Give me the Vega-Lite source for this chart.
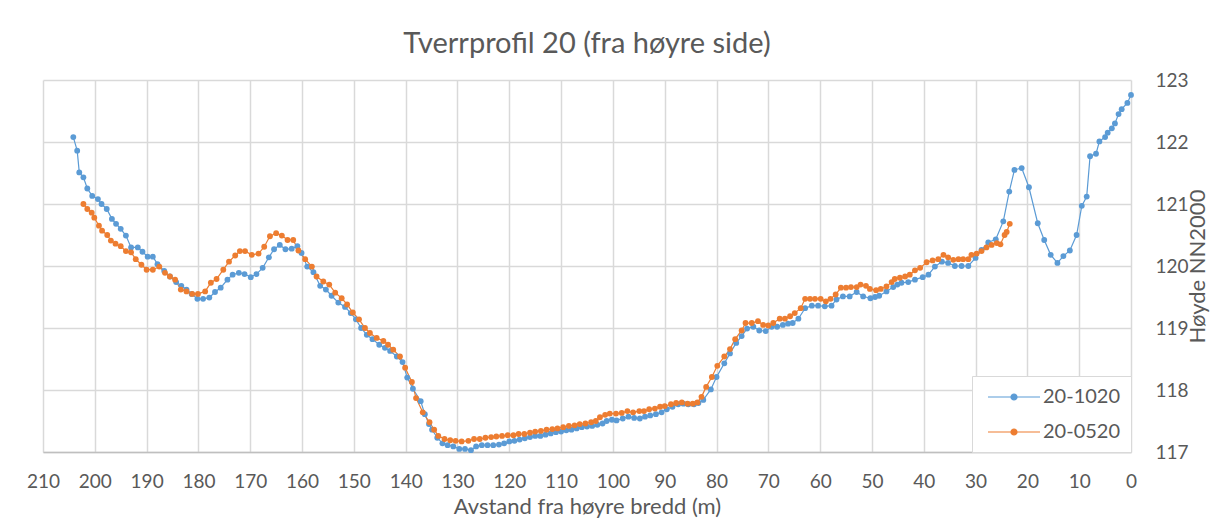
{
  "$schema": "https://vega.github.io/schema/vega-lite/v6.json",
  "width": 1088,
  "height": 372,
  "autosize": {"type": "none"},
  "padding": {"left": 43, "top": 80, "right": 79, "bottom": 66},
  "background": "white",
  "title": {"text": "Tverrprofil 20 (fra høyre side)", "fontSize": 29, "fontWeight": "normal", "color": "#595959", "font": "Lato", "anchor": "middle", "offset": 12},
  "config": {"font": "Lato", "view": {"stroke": null}},
  "data": {"values": [
    {"s":"20-1020","x":204.15,"y":122.08},{"s":"20-1020","x":203.4,"y":121.86},{"s":"20-1020","x":203.0,"y":121.51},{"s":"20-1020","x":202.2,"y":121.43},{"s":"20-1020","x":201.45,"y":121.25},{"s":"20-1020","x":200.5,"y":121.13},{"s":"20-1020","x":199.4,"y":121.08},{"s":"20-1020","x":198.7,"y":121.0},{"s":"20-1020","x":197.7,"y":120.92},{"s":"20-1020","x":196.7,"y":120.76},{"s":"20-1020","x":195.9,"y":120.68},{"s":"20-1020","x":195.0,"y":120.6},{"s":"20-1020","x":194.0,"y":120.49},{"s":"20-1020","x":193.0,"y":120.3},{"s":"20-1020","x":191.7,"y":120.3},{"s":"20-1020","x":190.8,"y":120.23},{"s":"20-1020","x":189.8,"y":120.15},{"s":"20-1020","x":188.8,"y":120.15},{"s":"20-1020","x":187.9,"y":120.03},{"s":"20-1020","x":186.6,"y":119.92},{"s":"20-1020","x":185.5,"y":119.83},{"s":"20-1020","x":184.3,"y":119.74},{"s":"20-1020","x":183.3,"y":119.68},{"s":"20-1020","x":182.3,"y":119.62},{"s":"20-1020","x":181.3,"y":119.55},{"s":"20-1020","x":180.2,"y":119.47},{"s":"20-1020","x":179.1,"y":119.47},{"s":"20-1020","x":177.9,"y":119.49},{"s":"20-1020","x":176.8,"y":119.58},{"s":"20-1020","x":175.7,"y":119.65},{"s":"20-1020","x":174.4,"y":119.78},{"s":"20-1020","x":173.4,"y":119.86},{"s":"20-1020","x":172.2,"y":119.89},{"s":"20-1020","x":171.1,"y":119.87},{"s":"20-1020","x":169.9,"y":119.82},{"s":"20-1020","x":168.8,"y":119.87},{"s":"20-1020","x":167.6,"y":119.97},{"s":"20-1020","x":166.4,"y":120.14},{"s":"20-1020","x":165.4,"y":120.27},{"s":"20-1020","x":164.3,"y":120.34},{"s":"20-1020","x":163.2,"y":120.27},{"s":"20-1020","x":162.0,"y":120.28},{"s":"20-1020","x":160.9,"y":120.32},{"s":"20-1020","x":160.1,"y":120.21},{"s":"20-1020","x":159.0,"y":119.99},{"s":"20-1020","x":157.8,"y":119.9},{"s":"20-1020","x":156.5,"y":119.68},{"s":"20-1020","x":155.4,"y":119.62},{"s":"20-1020","x":154.3,"y":119.52},{"s":"20-1020","x":153.0,"y":119.41},{"s":"20-1020","x":151.7,"y":119.34},{"s":"20-1020","x":150.6,"y":119.24},{"s":"20-1020","x":149.6,"y":119.14},{"s":"20-1020","x":148.6,"y":119.0},{"s":"20-1020","x":147.5,"y":118.89},{"s":"20-1020","x":146.4,"y":118.82},{"s":"20-1020","x":145.1,"y":118.73},{"s":"20-1020","x":144.0,"y":118.68},{"s":"20-1020","x":143.0,"y":118.63},{"s":"20-1020","x":141.7,"y":118.54},{"s":"20-1020","x":140.6,"y":118.45},{"s":"20-1020","x":139.7,"y":118.2},{"s":"20-1020","x":138.6,"y":118.02},{"s":"20-1020","x":137.1,"y":117.82},{"s":"20-1020","x":136.3,"y":117.61},{"s":"20-1020","x":135.5,"y":117.45},{"s":"20-1020","x":134.9,"y":117.36},{"s":"20-1020","x":133.9,"y":117.23},{"s":"20-1020","x":132.9,"y":117.14},{"s":"20-1020","x":131.9,"y":117.11},{"s":"20-1020","x":130.8,"y":117.09},{"s":"20-1020","x":129.65,"y":117.05},{"s":"20-1020","x":128.55,"y":117.05},{"s":"20-1020","x":127.4,"y":117.03},{"s":"20-1020","x":126.4,"y":117.09},{"s":"20-1020","x":125.3,"y":117.11},{"s":"20-1020","x":124.2,"y":117.11},{"s":"20-1020","x":123.1,"y":117.11},{"s":"20-1020","x":122.0,"y":117.12},{"s":"20-1020","x":121.0,"y":117.14},{"s":"20-1020","x":120.0,"y":117.17},{"s":"20-1020","x":119.0,"y":117.18},{"s":"20-1020","x":118.0,"y":117.2},{"s":"20-1020","x":117.0,"y":117.22},{"s":"20-1020","x":116.0,"y":117.24},{"s":"20-1020","x":115.0,"y":117.26},{"s":"20-1020","x":114.0,"y":117.26},{"s":"20-1020","x":113.0,"y":117.28},{"s":"20-1020","x":112.0,"y":117.3},{"s":"20-1020","x":111.0,"y":117.32},{"s":"20-1020","x":110.0,"y":117.33},{"s":"20-1020","x":109.0,"y":117.35},{"s":"20-1020","x":108.0,"y":117.36},{"s":"20-1020","x":107.0,"y":117.38},{"s":"20-1020","x":106.0,"y":117.4},{"s":"20-1020","x":105.0,"y":117.41},{"s":"20-1020","x":104.0,"y":117.42},{"s":"20-1020","x":103.0,"y":117.44},{"s":"20-1020","x":102.0,"y":117.46},{"s":"20-1020","x":101.2,"y":117.5},{"s":"20-1020","x":100.2,"y":117.52},{"s":"20-1020","x":99.3,"y":117.51},{"s":"20-1020","x":98.1,"y":117.54},{"s":"20-1020","x":97.0,"y":117.57},{"s":"20-1020","x":95.9,"y":117.55},{"s":"20-1020","x":94.8,"y":117.54},{"s":"20-1020","x":93.8,"y":117.57},{"s":"20-1020","x":92.8,"y":117.59},{"s":"20-1020","x":91.7,"y":117.61},{"s":"20-1020","x":90.6,"y":117.64},{"s":"20-1020","x":89.6,"y":117.69},{"s":"20-1020","x":88.5,"y":117.73},{"s":"20-1020","x":87.4,"y":117.77},{"s":"20-1020","x":86.4,"y":117.78},{"s":"20-1020","x":85.45,"y":117.77},{"s":"20-1020","x":84.35,"y":117.77},{"s":"20-1020","x":83.5,"y":117.79},{"s":"20-1020","x":82.55,"y":117.84},{"s":"20-1020","x":81.1,"y":118.01},{"s":"20-1020","x":80.0,"y":118.21},{"s":"20-1020","x":78.5,"y":118.43},{"s":"20-1020","x":77.4,"y":118.59},{"s":"20-1020","x":76.2,"y":118.76},{"s":"20-1020","x":75.15,"y":118.87},{"s":"20-1020","x":74.1,"y":118.99},{"s":"20-1020","x":72.9,"y":119.02},{"s":"20-1020","x":71.75,"y":118.96},{"s":"20-1020","x":70.5,"y":118.95},{"s":"20-1020","x":69.35,"y":119.02},{"s":"20-1020","x":68.3,"y":119.02},{"s":"20-1020","x":67.2,"y":119.05},{"s":"20-1020","x":66.2,"y":119.07},{"s":"20-1020","x":65.3,"y":119.08},{"s":"20-1020","x":64.2,"y":119.15},{"s":"20-1020","x":62.9,"y":119.32},{"s":"20-1020","x":61.6,"y":119.36},{"s":"20-1020","x":60.4,"y":119.36},{"s":"20-1020","x":59.1,"y":119.35},{"s":"20-1020","x":57.8,"y":119.36},{"s":"20-1020","x":56.85,"y":119.46},{"s":"20-1020","x":55.6,"y":119.51},{"s":"20-1020","x":54.3,"y":119.51},{"s":"20-1020","x":52.95,"y":119.58},{"s":"20-1020","x":51.7,"y":119.51},{"s":"20-1020","x":50.3,"y":119.48},{"s":"20-1020","x":49.4,"y":119.5},{"s":"20-1020","x":48.6,"y":119.52},{"s":"20-1020","x":47.2,"y":119.59},{"s":"20-1020","x":45.9,"y":119.66},{"s":"20-1020","x":45.1,"y":119.7},{"s":"20-1020","x":44.3,"y":119.73},{"s":"20-1020","x":43.0,"y":119.74},{"s":"20-1020","x":41.7,"y":119.78},{"s":"20-1020","x":40.2,"y":119.82},{"s":"20-1020","x":39.1,"y":119.86},{"s":"20-1020","x":37.85,"y":119.99},{"s":"20-1020","x":36.5,"y":120.07},{"s":"20-1020","x":35.3,"y":120.05},{"s":"20-1020","x":34.0,"y":120.0},{"s":"20-1020","x":32.7,"y":120.0},{"s":"20-1020","x":31.4,"y":120.0},{"s":"20-1020","x":30.0,"y":120.13},{"s":"20-1020","x":28.85,"y":120.26},{"s":"20-1020","x":27.55,"y":120.38},{"s":"20-1020","x":26.1,"y":120.43},{"s":"20-1020","x":24.65,"y":120.72},{"s":"20-1020","x":23.5,"y":121.2},{"s":"20-1020","x":22.5,"y":121.55},{"s":"20-1020","x":21.1,"y":121.58},{"s":"20-1020","x":19.7,"y":121.27},{"s":"20-1020","x":18.0,"y":120.69},{"s":"20-1020","x":16.75,"y":120.42},{"s":"20-1020","x":15.5,"y":120.18},{"s":"20-1020","x":14.2,"y":120.05},{"s":"20-1020","x":13.05,"y":120.16},{"s":"20-1020","x":11.8,"y":120.25},{"s":"20-1020","x":10.5,"y":120.5},{"s":"20-1020","x":9.5,"y":120.97},{"s":"20-1020","x":8.55,"y":121.12},{"s":"20-1020","x":7.9,"y":121.77},{"s":"20-1020","x":6.75,"y":121.81},{"s":"20-1020","x":6.1,"y":122.01},{"s":"20-1020","x":5.0,"y":122.08},{"s":"20-1020","x":4.5,"y":122.15},{"s":"20-1020","x":3.7,"y":122.22},{"s":"20-1020","x":3.1,"y":122.3},{"s":"20-1020","x":2.4,"y":122.45},{"s":"20-1020","x":1.8,"y":122.53},{"s":"20-1020","x":0.7,"y":122.63},{"s":"20-1020","x":0.0,"y":122.76},
    {"s":"20-0520","x":202.2,"y":121.0},{"s":"20-0520","x":201.45,"y":120.92},{"s":"20-0520","x":200.6,"y":120.86},{"s":"20-0520","x":200.1,"y":120.78},{"s":"20-0520","x":199.2,"y":120.65},{"s":"20-0520","x":198.6,"y":120.57},{"s":"20-0520","x":197.6,"y":120.5},{"s":"20-0520","x":196.9,"y":120.41},{"s":"20-0520","x":196.0,"y":120.36},{"s":"20-0520","x":195.0,"y":120.32},{"s":"20-0520","x":194.0,"y":120.24},{"s":"20-0520","x":193.0,"y":120.22},{"s":"20-0520","x":192.1,"y":120.11},{"s":"20-0520","x":191.0,"y":120.02},{"s":"20-0520","x":190.0,"y":119.94},{"s":"20-0520","x":188.8,"y":119.94},{"s":"20-0520","x":187.55,"y":119.99},{"s":"20-0520","x":186.45,"y":119.89},{"s":"20-0520","x":185.5,"y":119.83},{"s":"20-0520","x":184.5,"y":119.78},{"s":"20-0520","x":183.4,"y":119.62},{"s":"20-0520","x":182.3,"y":119.59},{"s":"20-0520","x":181.2,"y":119.55},{"s":"20-0520","x":180.1,"y":119.55},{"s":"20-0520","x":178.7,"y":119.59},{"s":"20-0520","x":177.6,"y":119.73},{"s":"20-0520","x":176.5,"y":119.79},{"s":"20-0520","x":175.2,"y":119.94},{"s":"20-0520","x":174.1,"y":120.07},{"s":"20-0520","x":172.9,"y":120.17},{"s":"20-0520","x":172.0,"y":120.24},{"s":"20-0520","x":171.0,"y":120.24},{"s":"20-0520","x":169.7,"y":120.18},{"s":"20-0520","x":168.4,"y":120.2},{"s":"20-0520","x":167.3,"y":120.31},{"s":"20-0520","x":166.2,"y":120.48},{"s":"20-0520","x":165.0,"y":120.53},{"s":"20-0520","x":163.9,"y":120.49},{"s":"20-0520","x":162.8,"y":120.42},{"s":"20-0520","x":161.7,"y":120.42},{"s":"20-0520","x":160.7,"y":120.25},{"s":"20-0520","x":159.4,"y":120.11},{"s":"20-0520","x":158.1,"y":119.99},{"s":"20-0520","x":157.2,"y":119.83},{"s":"20-0520","x":155.9,"y":119.75},{"s":"20-0520","x":154.75,"y":119.7},{"s":"20-0520","x":153.6,"y":119.57},{"s":"20-0520","x":152.35,"y":119.48},{"s":"20-0520","x":151.3,"y":119.38},{"s":"20-0520","x":150.2,"y":119.25},{"s":"20-0520","x":149.0,"y":119.14},{"s":"20-0520","x":147.85,"y":119.0},{"s":"20-0520","x":146.9,"y":118.92},{"s":"20-0520","x":145.6,"y":118.84},{"s":"20-0520","x":144.3,"y":118.79},{"s":"20-0520","x":143.4,"y":118.73},{"s":"20-0520","x":142.4,"y":118.65},{"s":"20-0520","x":141.1,"y":118.54},{"s":"20-0520","x":140.1,"y":118.36},{"s":"20-0520","x":138.8,"y":118.13},{"s":"20-0520","x":138.0,"y":117.87},{"s":"20-0520","x":136.7,"y":117.64},{"s":"20-0520","x":135.4,"y":117.48},{"s":"20-0520","x":134.5,"y":117.36},{"s":"20-0520","x":133.7,"y":117.26},{"s":"20-0520","x":132.5,"y":117.21},{"s":"20-0520","x":131.4,"y":117.19},{"s":"20-0520","x":130.35,"y":117.18},{"s":"20-0520","x":129.2,"y":117.17},{"s":"20-0520","x":127.9,"y":117.18},{"s":"20-0520","x":126.8,"y":117.21},{"s":"20-0520","x":125.7,"y":117.21},{"s":"20-0520","x":124.6,"y":117.23},{"s":"20-0520","x":123.5,"y":117.24},{"s":"20-0520","x":122.5,"y":117.25},{"s":"20-0520","x":121.4,"y":117.26},{"s":"20-0520","x":120.3,"y":117.27},{"s":"20-0520","x":119.2,"y":117.27},{"s":"20-0520","x":118.2,"y":117.29},{"s":"20-0520","x":117.1,"y":117.29},{"s":"20-0520","x":116.0,"y":117.31},{"s":"20-0520","x":115.0,"y":117.33},{"s":"20-0520","x":113.9,"y":117.34},{"s":"20-0520","x":112.8,"y":117.36},{"s":"20-0520","x":111.7,"y":117.37},{"s":"20-0520","x":110.7,"y":117.38},{"s":"20-0520","x":109.6,"y":117.4},{"s":"20-0520","x":108.5,"y":117.42},{"s":"20-0520","x":107.4,"y":117.43},{"s":"20-0520","x":106.4,"y":117.45},{"s":"20-0520","x":105.3,"y":117.46},{"s":"20-0520","x":104.2,"y":117.48},{"s":"20-0520","x":103.3,"y":117.5},{"s":"20-0520","x":102.5,"y":117.56},{"s":"20-0520","x":101.5,"y":117.6},{"s":"20-0520","x":100.6,"y":117.62},{"s":"20-0520","x":99.4,"y":117.62},{"s":"20-0520","x":98.3,"y":117.63},{"s":"20-0520","x":97.2,"y":117.66},{"s":"20-0520","x":96.1,"y":117.64},{"s":"20-0520","x":94.9,"y":117.66},{"s":"20-0520","x":94.0,"y":117.66},{"s":"20-0520","x":93.0,"y":117.69},{"s":"20-0520","x":91.9,"y":117.7},{"s":"20-0520","x":90.9,"y":117.73},{"s":"20-0520","x":90.0,"y":117.74},{"s":"20-0520","x":88.8,"y":117.77},{"s":"20-0520","x":87.8,"y":117.79},{"s":"20-0520","x":86.7,"y":117.8},{"s":"20-0520","x":85.6,"y":117.78},{"s":"20-0520","x":84.6,"y":117.78},{"s":"20-0520","x":83.7,"y":117.8},{"s":"20-0520","x":82.9,"y":117.89},{"s":"20-0520","x":82.0,"y":118.05},{"s":"20-0520","x":80.9,"y":118.21},{"s":"20-0520","x":79.85,"y":118.39},{"s":"20-0520","x":78.5,"y":118.54},{"s":"20-0520","x":77.4,"y":118.66},{"s":"20-0520","x":76.4,"y":118.82},{"s":"20-0520","x":75.15,"y":118.96},{"s":"20-0520","x":74.4,"y":119.08},{"s":"20-0520","x":73.2,"y":119.08},{"s":"20-0520","x":72.0,"y":119.11},{"s":"20-0520","x":71.0,"y":119.05},{"s":"20-0520","x":70.0,"y":119.04},{"s":"20-0520","x":69.05,"y":119.08},{"s":"20-0520","x":67.8,"y":119.15},{"s":"20-0520","x":66.8,"y":119.15},{"s":"20-0520","x":65.8,"y":119.19},{"s":"20-0520","x":64.9,"y":119.24},{"s":"20-0520","x":63.75,"y":119.32},{"s":"20-0520","x":62.9,"y":119.47},{"s":"20-0520","x":61.95,"y":119.47},{"s":"20-0520","x":61.0,"y":119.47},{"s":"20-0520","x":59.9,"y":119.47},{"s":"20-0520","x":58.9,"y":119.43},{"s":"20-0520","x":58.0,"y":119.47},{"s":"20-0520","x":57.0,"y":119.54},{"s":"20-0520","x":56.0,"y":119.65},{"s":"20-0520","x":55.0,"y":119.65},{"s":"20-0520","x":54.05,"y":119.66},{"s":"20-0520","x":52.95,"y":119.66},{"s":"20-0520","x":52.2,"y":119.7},{"s":"20-0520","x":51.15,"y":119.68},{"s":"20-0520","x":50.4,"y":119.63},{"s":"20-0520","x":49.2,"y":119.61},{"s":"20-0520","x":48.3,"y":119.63},{"s":"20-0520","x":47.2,"y":119.67},{"s":"20-0520","x":46.2,"y":119.74},{"s":"20-0520","x":45.6,"y":119.79},{"s":"20-0520","x":44.6,"y":119.81},{"s":"20-0520","x":43.6,"y":119.83},{"s":"20-0520","x":42.7,"y":119.86},{"s":"20-0520","x":41.7,"y":119.93},{"s":"20-0520","x":40.7,"y":119.97},{"s":"20-0520","x":39.45,"y":120.06},{"s":"20-0520","x":38.3,"y":120.09},{"s":"20-0520","x":37.2,"y":120.11},{"s":"20-0520","x":36.2,"y":120.18},{"s":"20-0520","x":35.3,"y":120.14},{"s":"20-0520","x":34.3,"y":120.1},{"s":"20-0520","x":33.3,"y":120.11},{"s":"20-0520","x":32.4,"y":120.11},{"s":"20-0520","x":31.4,"y":120.11},{"s":"20-0520","x":30.8,"y":120.18},{"s":"20-0520","x":29.8,"y":120.2},{"s":"20-0520","x":28.85,"y":120.24},{"s":"20-0520","x":27.9,"y":120.3},{"s":"20-0520","x":26.9,"y":120.34},{"s":"20-0520","x":25.9,"y":120.37},{"s":"20-0520","x":25.2,"y":120.35},{"s":"20-0520","x":24.4,"y":120.5},{"s":"20-0520","x":24.0,"y":120.55},{"s":"20-0520","x":23.4,"y":120.68}
  ]},
  "mark": {"type": "line", "strokeWidth": 1.2, "point": {"filled": true, "size": 34, "opacity": 1}},
  "encoding": {
    "x": {"field": "x", "type": "quantitative",
      "scale": {"domain": [0, 210], "reverse": true, "nice": false, "zero": false},
      "axis": {"values": [0,10,20,30,40,50,60,70,80,90,100,110,120,130,140,150,160,170,180,190,200,210],
        "title": "Avstand fra høyre bredd (m)", "titleFontSize": 22, "titleFontWeight": "normal", "titleColor": "#595959", "titlePadding": 5,
        "labelFontSize": 19, "labelColor": "#595959", "labelPadding": 20, "ticks": false,
        "grid": true, "gridColor": "#d9d9d9", "gridWidth": 1.5, "domainColor": "#bfbfbf", "domainWidth": 1.5, "labelFlush": false}},
    "y": {"field": "y", "type": "quantitative",
      "scale": {"domain": [117, 123], "nice": false, "zero": false},
      "axis": {"orient": "right", "values": [117,118,119,120,121,122,123], "title": "Høyde NN2000",
        "titleFontSize": 22, "titleFontWeight": "normal", "titleColor": "#595959", "titleAngle": 270, "titleX": 66, "titleY": 186, "titleAlign": "center", "titleBaseline": "middle",
        "labelFontSize": 19, "labelColor": "#595959", "labelPadding": 24, "ticks": false, "domain": false,
        "grid": true, "gridColor": "#d9d9d9", "gridWidth": 1.5}},
    "color": {"field": "s", "type": "nominal",
      "scale": {"domain": ["20-1020", "20-0520"], "range": ["#5B9BD5", "#ED7D31"]},
      "legend": {"title": null, "orient": "bottom-right", "offset": 0, "fillColor": "white", "strokeColor": "#d9d9d9", "padding": 10,
        "labelFontSize": 20, "labelColor": "#595959", "labelOffset": 18, "labelExpr": "datum.label + '\u00a0\u00a0\u00a0\u00a0'",
        "symbolType": "M-2.6,0L2.6,0M-0.3,0A0.3,0.3 0 1,0 0.3,0A0.3,0.3 0 1,0 -0.3,0Z",
        "symbolSize": 400, "symbolStrokeWidth": 1.2, "symbolOffset": 21, "rowPadding": 14,
        "encode": {"symbols": {"update": {"fill": {"scale": "color", "field": "value"}, "stroke": {"scale": "color", "field": "value"}}}}}}
  }
}
